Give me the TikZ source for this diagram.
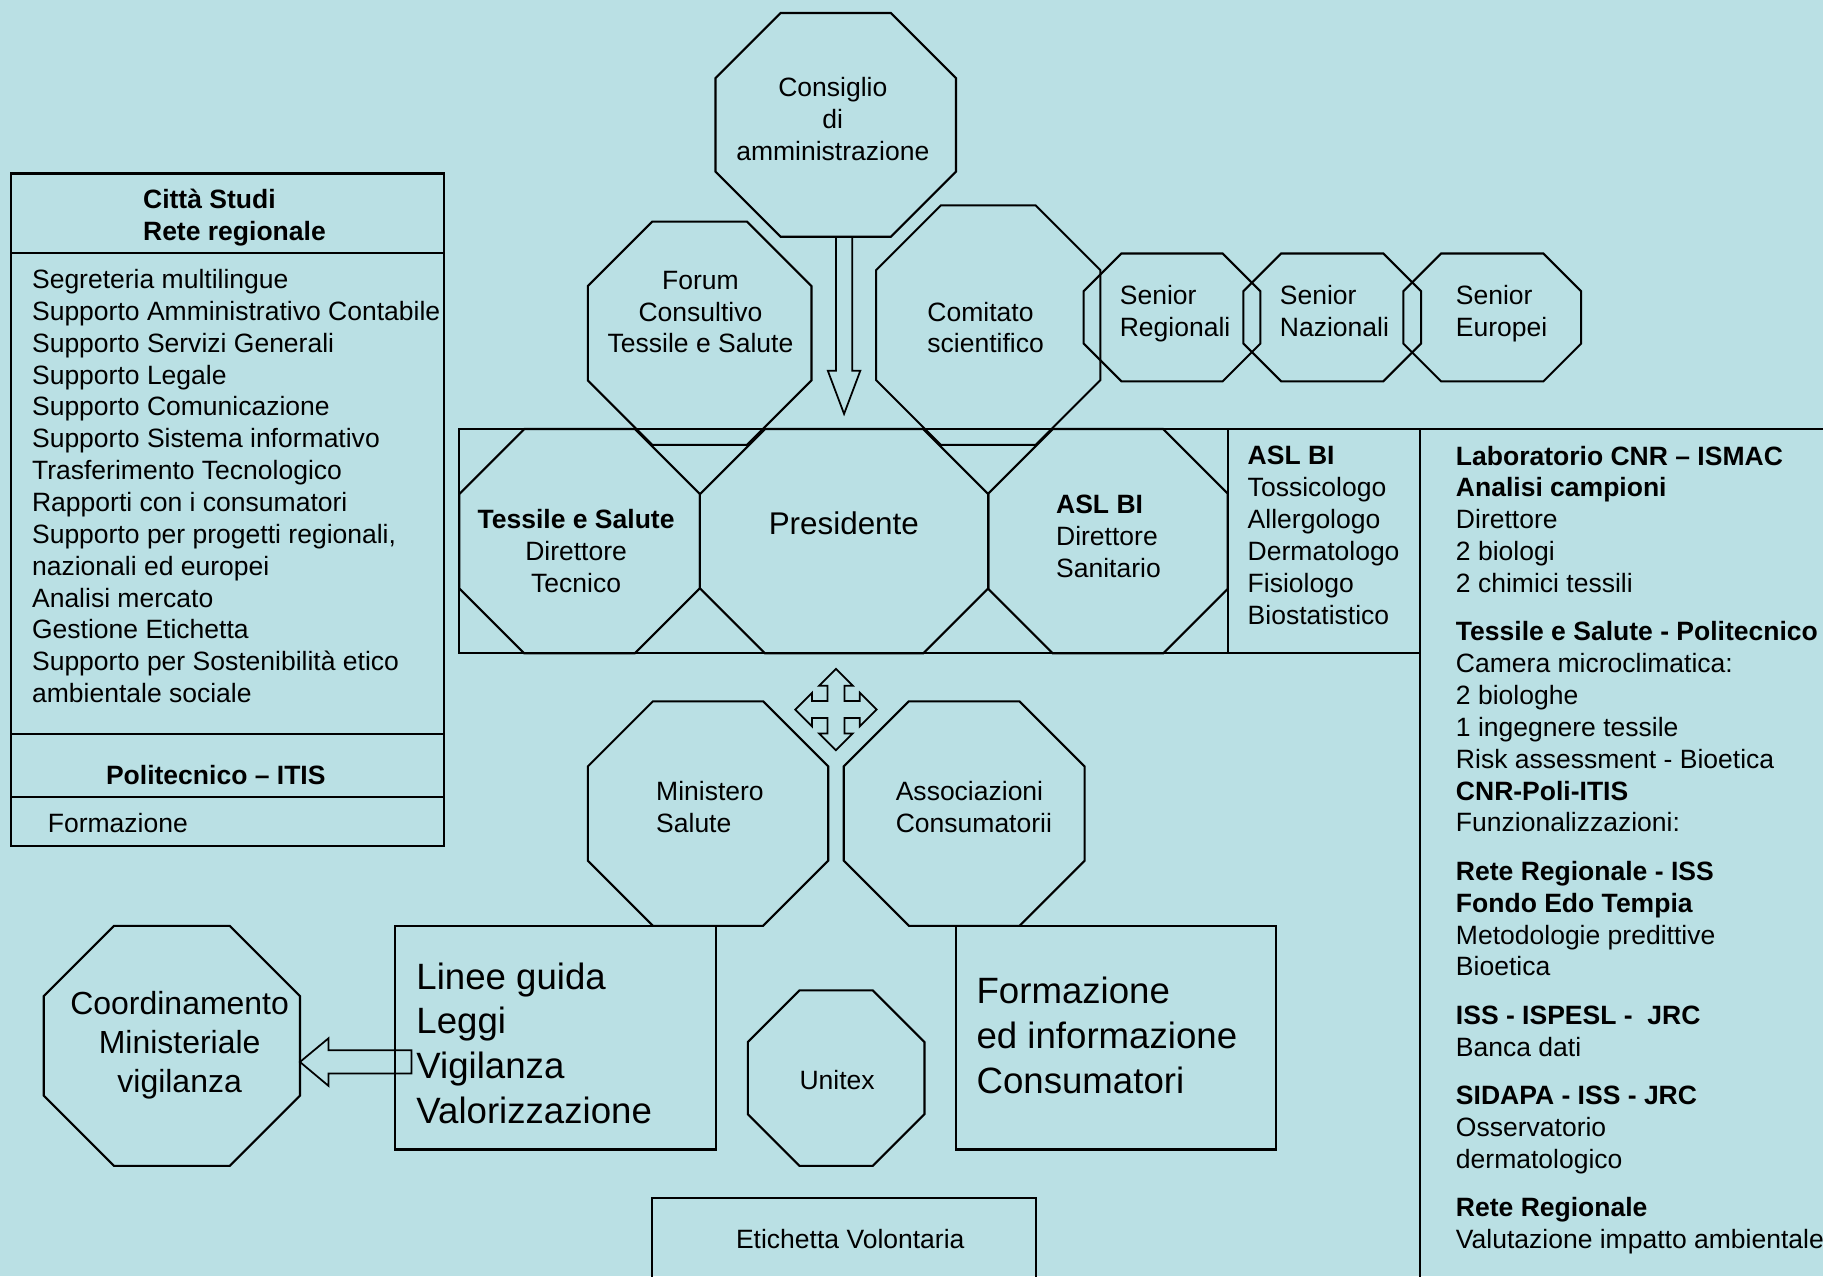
\documentclass[tikz,border=0pt]{standalone}
\usepackage{fontspec}
\setmainfont{Liberation Sans}
\definecolor{bgblue}{RGB}{186,224,228}
\newcommand{\octo}[5]{%
  \draw[shp] (#1+#5,#2) -- (#3-#5,#2) -- (#3,#2+#5) -- (#3,#4-#5) -- (#3-#5,#4) -- (#1+#5,#4) -- (#1,#4-#5) -- (#1,#2+#5) -- cycle;}
\tikzset{
  shp/.style={draw=black, line width=1.8pt, line join=miter},
  txt/.style={inner sep=0pt, font=\fontsize{22.8}{27.4}\selectfont, align=left, anchor=base west},
  txtb/.style={inner sep=0pt, font=\fontsize{22.8}{27.4}\selectfont\bfseries, align=left, anchor=base west},
  txtc/.style={inner sep=0pt, font=\fontsize{22.8}{27.4}\selectfont, align=center, anchor=base},
  bigtxt/.style={inner sep=0pt, font=\fontsize{31.5}{38.5}\selectfont, align=left, anchor=base west},
}
% note: the base anchor of a multi-line node is the baseline of its last line
\begin{document}
\begin{tikzpicture}[x=1pt,y=-1pt]
\useasboundingbox (0,0) rectangle (1568,1097.6);
\fill[bgblue] (0,0) rectangle (1568,1097.6);

% ---------- Citta Studi box ----------
\draw[shp] (9.8,149.2) rectangle (382,727.5);
\draw[shp] (9.8,217.7) -- (382,217.7);
\draw[shp] (9.8,631.4) -- (382,631.4);
\draw[shp] (9.8,685.7) -- (382,685.7);
\node[txtb] (citta) at (122.9,206.6) {Città Studi\\Rete regionale};
\node[txt] (cittalist) at (27.4,604.3) {Segreteria multilingue\\
Supporto Amministrativo Contabile\\
Supporto Servizi Generali\\
Supporto Legale\\
Supporto Comunicazione\\
Supporto Sistema informativo\\
Trasferimento Tecnologico\\
Rapporti con i consumatori\\
Supporto per progetti regionali,\\
nazionali ed europei\\
Analisi mercato\\
Gestione Etichetta\\
Supporto per Sostenibilità etico\\
ambientale sociale};
\node[txtb] (poli) at (91,674.8) {Politecnico – ITIS};
\node[txt] (formaz) at (41,716.3) {Formazione};

% ---------- top octagons ----------
\octo{615.4}{11.2}{822.3}{203.6}{56}
\node[txtc] (consiglio) at (716.3,137.8) {Consiglio\\di\\amministrazione};
\octo{505.6}{190.6}{698}{382.7}{55.5}
\node[txtc] (forum) at (602.5,303.6) {Forum\\Consultivo\\Tessile e Salute};
\octo{753.5}{176.6}{946.5}{382.7}{55.8}
\node[txt] (comitato) at (797.5,303.5) {Comitato\\scientifico};
\octo{932.1}{218}{1084.1}{328}{32.5}
\node[txt] (senreg) at (963,289.4) {Senior\\Regionali};
\octo{1069.5}{218}{1222.3}{328}{32.5}
\node[txt] (sennaz) at (1100.7,289.4) {Senior\\Nazionali};
\octo{1207}{218}{1360}{328}{32.5}
\node[txt] (seneur) at (1252,289.4) {Senior\\Europei};

% ---------- arrow Consiglio -> Presidente ----------
\coordinate (consS) at (726,203.6);
\coordinate (presN) at (726,356);
\draw[shp, line width=1.5pt] (719,203.6) -- (719,318.8) -- (712,318.8) -- (presN) -- (740,318.8) -- (733,318.8) -- (733,203.6);

% ---------- main box ----------
\draw[shp] (395,369) rectangle (1056,562);
\draw[shp] (1056,369) rectangle (1221,562);
\draw[shp] (1221,1100) -- (1221,369) -- (1570,369);
\octo{395}{369}{602}{562}{56}
\octo{602}{369}{850}{562}{56}
\octo{850}{369}{1056}{562}{55.5}
\node[txtc] (tessile) at (495.5,509.4) {\textbf{Tessile e Salute}\\Direttore\\Tecnico};
\node[inner sep=0pt, font=\fontsize{27}{32}\selectfont, anchor=base] (presidente) at (725.8,459.5) {Presidente};
\node[txt] (aslds) at (908.2,496.5) {\textbf{ASL BI}\\Direttore\\Sanitario};
\node[txt] (asllist) at (1073,536.8) {\textbf{ASL BI}\\Tossicologo\\Allergologo\\Dermatologo\\Fisiologo\\Biostatistico};

% ---------- right column ----------
\node[txt] (rightcol) at (1252.1,1073.8) {\textbf{Laboratorio CNR – ISMAC}\\
\textbf{Analisi campioni}\\
Direttore\\
2 biologi\\
2 chimici tessili\\[14.2pt]
\textbf{Tessile e Salute - Politecnico}\\
Camera microclimatica:\\
2 biologhe\\
1 ingegnere tessile\\
Risk assessment - Bioetica\\
\textbf{CNR-Poli-ITIS}\\
Funzionalizzazioni:\\[14.2pt]
\textbf{Rete Regionale - ISS}\\
\textbf{Fondo Edo Tempia}\\
Metodologie predittive\\
Bioetica\\[14.2pt]
\textbf{ISS - ISPESL -~~JRC}\\
Banca dati\\[14.2pt]
\textbf{SIDAPA - ISS - JRC}\\
Osservatorio\\
dermatologico\\[14.2pt]
\textbf{Rete Regionale}\\
Valutazione impatto ambientale};

% ---------- quad arrow ----------
\coordinate (qa) at (719,610.3);
\draw[shp, line width=1.5pt, shift={(qa)}] (0,-35) -- (14.5,-20.5) -- (7.3,-20.5) -- (7.3,-7.3) -- (20.5,-7.3) -- (20.5,-14.5) -- (35,0) -- (20.5,14.5) -- (20.5,7.3) -- (7.3,7.3) -- (7.3,20.5) -- (14.5,20.5) -- (0,35) -- (-14.5,20.5) -- (-7.3,20.5) -- (-7.3,7.3) -- (-20.5,7.3) -- (-20.5,14.5) -- (-35,0) -- (-20.5,-14.5) -- (-20.5,-7.3) -- (-7.3,-7.3) -- (-7.3,-20.5) -- (-14.5,-20.5) -- cycle;

% ---------- lower octagons ----------
\octo{505.6}{603.2}{712.4}{796.3}{56}
\node[txt] (ministero) at (564.2,716.2) {Ministero\\Salute};
\octo{725.7}{603.2}{932.9}{796.3}{56}
\node[txt] (assoc) at (770.3,716.2) {Associazioni\\Consumatorii};
\octo{643.2}{851.8}{795.2}{1002.8}{44.5}
\node[txtc] (unitex) at (720,936.8) {Unitex};
\octo{37.6}{796.3}{258}{1002.8}{60.5}
\node[inner sep=0pt, font=\fontsize{27.5}{33.5}\selectfont, align=center, anchor=base] (coord) at (154.5,939.3) {Coordinamento\\Ministeriale\\vigilanza};

% ---------- boxes ----------
\draw[shp] (339.8,796.3) rectangle (616,988.7);
\node[bigtxt] (linee) at (358,966.3) {Linee guida\\Leggi\\Vigilanza\\Valorizzazione};
\draw[shp] (822.3,796.3) rectangle (1097.6,988.7);
\node[bigtxt] (formcons) at (839.8,940.3) {Formazione\\ed informazione\\Consumatori};
\draw[shp] (560.6,1100) -- (560.6,1030.5) -- (891,1030.5) -- (891,1100);
\node[txtc] (etichetta) at (731.3,1073.8) {Etichetta Volontaria};

% ---------- arrow Linee guida -> Coordinamento ----------
\coordinate (coordE) at (258,913.4);
\coordinate (lineeW) at (353.9,913.4);
\draw[shp, line width=1.5pt] (353.9,903.4) -- (282.6,903.4) -- (282.6,893) -- (coordE) -- (282.6,934) -- (282.6,923.4) -- (353.9,923.4) -- cycle;
\end{tikzpicture}
\end{document}
